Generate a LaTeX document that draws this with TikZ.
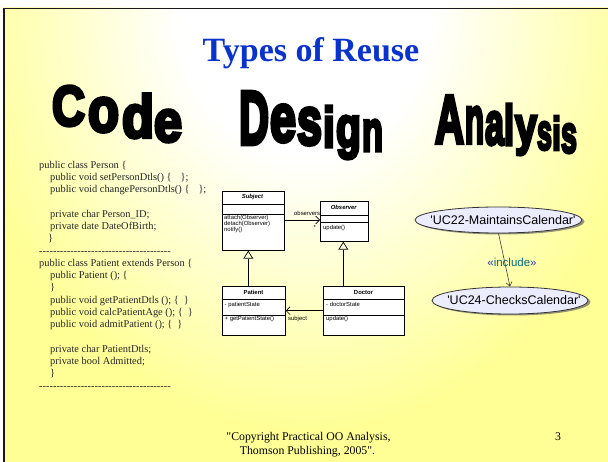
\documentclass[tikz,border=0pt]{standalone}
\usepackage{fontspec}
\usepackage{graphicx}
\setmainfont{Liberation Serif}
\newfontfamily\serifF{Liberation Serif}
\newfontfamily\sansF{Liberation Sans}
\newfontfamily\waF{Liberation Sans}[BoldFeatures={FakeBold=6}]
\usetikzlibrary{arrows.meta,shapes.geometric,shadows}
\definecolor{slideY}{RGB}{255,255,150}
\definecolor{titleblue}{RGB}{10,50,205}
\definecolor{ucfill}{RGB}{236,236,255}
\definecolor{incteal}{RGB}{0,110,120}
\definecolor{incblue}{RGB}{50,50,220}
\pgfdeclareradialshading{slidebg}{\pgfpoint{0bp}{0bp}}{color(0bp)=(white); color(9bp)=(white); color(25bp)=(slideY); color(50bp)=(slideY)}
\newcommand\cdF{\serifF\fontsize{10.4}{12.25}\selectfont}
\newcommand\umlF{\sansF\fontsize{5.9}{7}\selectfont}
\newcommand\dashrow{\foreach \n in {1,...,38}{\mbox{-}}}
\newcommand\walet[6]{\node[waletter] (#1) at (#2,#3) {\resizebox*{#4pt}{#5pt}{#6}};}
\begin{document}
\begin{tikzpicture}[x=1pt,y=-1pt,
  waletter/.style={inner sep=0pt, outer sep=0pt, anchor=north west, font=\waF\bfseries},
  codeline/.style={inner sep=0pt, anchor=base west, font=\cdF, text=black!85},
  umlbox/.style={draw=black, fill=white, line width=0.7pt, inner sep=0pt, anchor=north west},
  umltxt/.style={inner sep=0pt, anchor=base west, font=\umlF},
  umlname/.style={inner sep=0pt, anchor=base, font=\umlF\bfseries},
  gen/.style={draw, line width=0.7pt, -{Triangle[open, length=8pt, width=10pt]}},
  assoc/.style={draw, line width=0.6pt, -{Straight Barb[length=4pt, width=8pt]}},
  uc/.style={ellipse, draw=black!80, line width=0.8pt, fill=ucfill, inner sep=0pt,
    drop shadow={shadow xshift=2.5pt, shadow yshift=-1.5pt, fill=black!60, opacity=0.7}},
  uctxt/.style={inner sep=0pt, font=\sansF\fontsize{12.5}{14}\selectfont},
  foot/.style={inner sep=0pt, anchor=base, font=\serifF\fontsize{11.8}{14}\selectfont}]
\useasboundingbox (0,0) rectangle (608,462);
\fill[white] (0,0) rectangle (608,462);
\fill[slideY] (3,8) rectangle (608,462);
\begin{scope}
  \clip (3,8) rectangle (608,462);
  \shade[shading=slidebg] (305,0) ellipse [x radius=350, y radius=430];
\end{scope}
\draw[line width=2.2pt, black!90] (4,8) -- (4,462);
\draw[line width=1.6pt, black!90] (3,8.7) -- (608,8.7);

% title
\node[inner sep=0pt, anchor=base, text=titleblue, font=\serifF\bfseries\fontsize{34}{40}\selectfont] (title) at (311,62) {Types of Reuse};

% word art
\walet{wC}{52}{86}{33}{40}{C}
\walet{wo}{88}{98}{31}{34}{o}
\walet{wd}{122}{94}{32}{44}{d}
\walet{we}{154}{110}{28}{32}{e}
\walet{wD}{239}{92}{30}{52}{D}
\walet{web}{270}{105}{26}{37}{e}
\walet{ws}{297}{108}{25}{37}{s}
\walet{wi}{323}{106}{12}{41}{i}
\walet{wg}{336}{116}{25}{43}{g}
\walet{wn}{362}{120}{21}{31}{n}
\walet{wA}{435}{96}{29}{47}{A}
\walet{wnb}{465}{107}{19}{36}{n}
\walet{wa}{485}{112}{19}{33}{a}
\walet{wl}{504}{104}{10}{41}{l}
\walet{wy}{515}{116}{22}{39}{y}
\walet{wsb}{537}{122}{15}{28}{s}
\walet{wib}{552}{116}{9}{34}{i}
\walet{wsc}{561}{124}{16}{29}{s}

% code
\node[codeline] (c0) at (39,168.5) {public class Person \{};
\node[codeline] (c1) at (50,180.75) {public void setPersonDtls() \{\hspace{9pt}\};};
\node[codeline] (c2) at (50,193) {public void changePersonDtls() \{\hspace{9pt}\};};
\node[codeline] (c4) at (50,217.5) {private char Person\_ID;};
\node[codeline] (c5) at (50,229.75) {private date DateOfBirth;};
\node[codeline] (c6) at (48,242) {\}};
\node[codeline] (c7) at (39,254.25) {\dashrow};
\node[codeline] (c8) at (39,266.5) {public class Patient extends Person \{};
\node[codeline] (c9) at (50,278.75) {public Patient (); \{};
\node[codeline] (c10) at (50,291) {\}};
\node[codeline] (c11) at (50,303.25) {public void getPatientDtls (); \{\hspace{5pt}\}};
\node[codeline] (c12) at (50,315.5) {public void calcPatientAge (); \{\hspace{5pt}\}};
\node[codeline] (c13) at (50,327.75) {public void admitPatient (); \{\hspace{5pt}\}};
\node[codeline] (c15) at (50,352.25) {private char PatientDtls;};
\node[codeline] (c16) at (50,364.5) {private bool Admitted;};
\node[codeline] (c17) at (50,376.75) {\}};
\node[codeline] (c18) at (39,389) {\dashrow};

% UML boxes
\node[umlbox, minimum width=62pt, minimum height=59pt] (subj) at (221.5,191) {};
\draw[line width=0.7pt] (221.5,204) -- (283.5,204) (221.5,214) -- (283.5,214);
\node[umlname, font=\umlF\bfseries\itshape] (subjn) at (252.5,199) {Subject};
\node[umltxt] (op1) at (224,219.5) {attach(Observer)};
\node[umltxt] (op2) at (224,225.7) {detach(Observer)};
\node[umltxt] (op3) at (224,232) {notify()};

\node[umlbox, minimum width=47.5pt, minimum height=40pt] (obs) at (320,201) {};
\draw[line width=0.7pt] (320,215) -- (367.5,215) (320,222) -- (367.5,222);
\node[umlname, font=\umlF\bfseries\itshape] (obsn) at (343.75,210) {Observer};
\node[umltxt] (obsop) at (323,229.5) {update()};

\node[umlbox, minimum width=63pt, minimum height=49pt] (pat) at (222,286) {};
\draw[line width=0.7pt] (222,299) -- (285,299) (222,315) -- (285,315);
\node[umlname] (patn) at (253.5,295) {Patient};
\node[umltxt] (patat) at (224.5,307) {- patientState};
\node[umltxt] (patop) at (224.5,321) {+ getPatientState()};

\node[umlbox, minimum width=81pt, minimum height=49pt] (doc) at (323,286) {};
\draw[line width=0.7pt] (323,299) -- (404,299) (323,315) -- (404,315);
\node[umlname] (docn) at (363.5,295) {Doctor};
\node[umltxt] (docat) at (326,307) {- doctorState};
\node[umltxt] (docop) at (326,321) {update()};

% UML connectors
\coordinate (gx1) at (248.3,0);
\coordinate (gx2) at (343.3,0);
\coordinate (ay1) at (0,220);
\coordinate (ay2) at (0,310.7);
\draw[gen] (gx1 |- pat.north) -- (gx1 |- subj.south);
\draw[gen] (gx2 |- doc.north) -- (gx2 |- obs.south);
\draw[assoc] (subj.east |- ay1) -- (obs.west |- ay1);
\draw[assoc] (doc.west |- ay2) -- (pat.east |- ay2);
\node[umltxt] (lobs) at (294,215.5) {observers};
\node[umltxt] (lstar) at (313.5,230) {*};
\node[umltxt] (lsubj) at (288,320.5) {subject};

% use cases
\node[uc, minimum width=167pt, minimum height=26pt] (uc1) at (498.5,220) {};
\node[uctxt] (uc1t) at (503,220) {'UC22-MaintainsCalendar'};
\node[uc, minimum width=156pt, minimum height=27pt] (uc2) at (510,300.5) {};
\node[uctxt] (uc2t) at (514,300.5) {'UC24-ChecksCalendar'};
\draw[draw=black!75, line width=0.6pt, -{Straight Barb[length=4pt, width=6pt]}] (uc1.south) -- (uc2.north);
\node[inner sep=0pt, font=\sansF\fontsize{11.5}{13}\selectfont] (inc) at (512,262) {\textcolor{incblue}{«}\textcolor{incteal}{include}\textcolor{incblue}{»}};

% footer
\node[foot] (f1) at (308.5,440) {"Copyright Practical OO Analysis,};
\node[foot] (f2) at (307.5,454) {Thomson Publishing, 2005".};
\node[foot] (pg) at (558,440) {3};
\end{tikzpicture}
\end{document}
